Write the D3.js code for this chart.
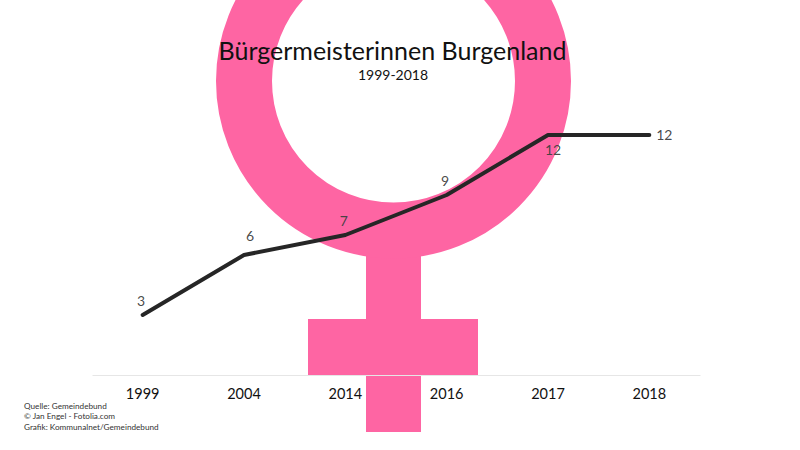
<!DOCTYPE html>
<html>
<head>
<meta charset="utf-8">
<script src="https://cdn.jsdelivr.net/npm/d3@7/dist/d3.min.js"></script>
<style>
html,body{margin:0;padding:0;background:#fff;}
svg{display:block;font-family:Lato,"Open Sans",sans-serif;}
</style>
</head>
<body>
<svg id="c" width="800" height="450"></svg>
<script>
const years = ["1999","2004","2014","2016","2017","2018"];
const counts = [3,6,7,9,12,12];
const labelPlacement = ["above","aboveRight","above","above","below","right"];
const titleText = "Bürgermeisterinnen Burgenland";
const subtitleText = "1999-2018";
const sourceLines = ["Quelle: Gemeindebund","© Jan Engel - Fotolia.com","Grafik: Kommunalnet/Gemeindebund"];

const svg = d3.select("#c");
const pink = "#fe65a3";
const x = d3.scaleBand().domain(years).range([92,700]);
const y = d3.scaleLinear().domain([0,12]).range([375,135]);
const cx = d => x(d) + x.bandwidth()/2;

const offsets = {
  above: [-1.5,-9],
  aboveRight: [6,-14],
  below: [5,20],
  right: [15,5]
};

// Venus symbol
const sym = svg.append("g");
sym.append("rect").attr("x",366).attr("y",250).attr("width",55).attr("height",182).attr("fill",pink);
sym.append("rect").attr("x",308).attr("y",319).attr("width",170).attr("height",56).attr("fill",pink);
sym.append("circle").attr("cx",393.5).attr("cy",81).attr("r",149.5)
  .attr("fill","none").attr("stroke",pink).attr("stroke-width",56);

// Axis
const axis = svg.append("g").attr("transform","translate(0,375)").call(d3.axisBottom(x).tickSize(0).tickPadding(14));
axis.select(".domain").attr("stroke","#e6e6e6").attr("stroke-width",1);
axis.selectAll("text").attr("font-size",14.5).attr("font-family","Lato").attr("fill","#111");

// Line
const line = d3.line().x((d,i)=>cx(years[i])).y(d=>y(d));
svg.append("path").datum(counts).attr("d",line).attr("fill","none")
  .attr("stroke","#262626").attr("stroke-width",4)
  .attr("stroke-linecap","round").attr("stroke-linejoin","round");

// Labels
svg.append("g").selectAll("text").data(counts).join("text")
  .attr("x",(d,i)=> cx(years[i]) + offsets[labelPlacement[i]][0])
  .attr("y",(d,i)=> y(d) + offsets[labelPlacement[i]][1])
  .attr("text-anchor","middle")
  .attr("font-size",14).attr("fill","#404040").attr("fill-opacity",0.95)
  .text(d=>d);

// Titles
svg.append("text").attr("x",392.5).attr("y",60).attr("text-anchor","middle")
  .attr("font-size",25).attr("fill","#111").text(titleText);
svg.append("text").attr("x",393).attr("y",80).attr("text-anchor","middle")
  .attr("font-size",14).attr("fill","#111").text(subtitleText);

// Source
svg.append("g").selectAll("text").data(sourceLines).join("text")
  .attr("x",24).attr("y",(d,i)=>408.5+i*10.7)
  .attr("font-size",8.2).attr("fill","#333").text(d=>d);
</script>
</body>
</html>
